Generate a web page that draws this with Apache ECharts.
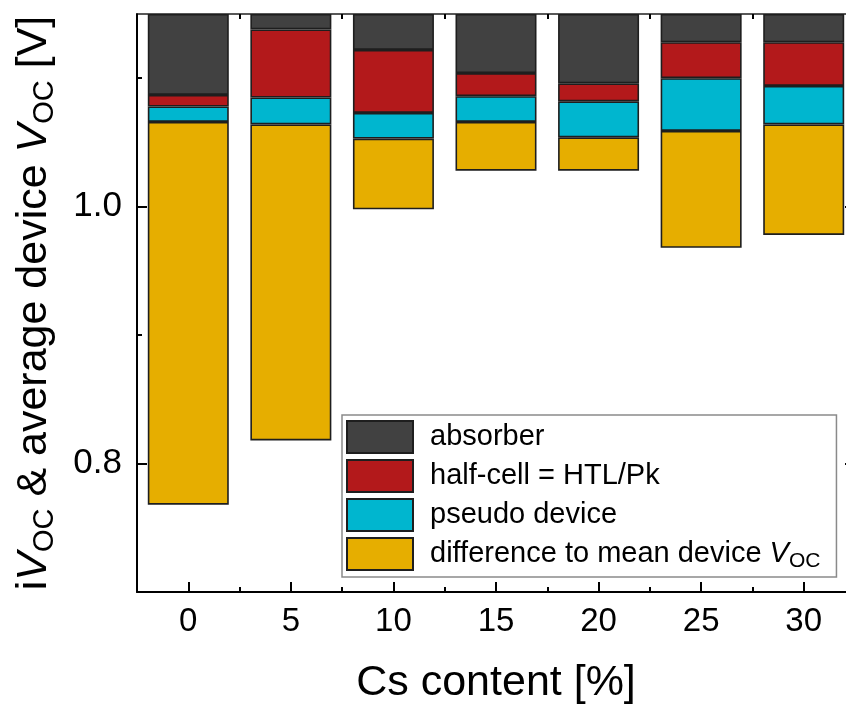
<!DOCTYPE html>
<html>
<head>
<meta charset="utf-8">
<script src="https://cdn.jsdelivr.net/npm/echarts@6/dist/echarts.min.js"></script>
<style>
  html, body { margin: 0; padding: 0; background: #fff; }
  #chart { width: 846px; height: 710px; }
</style>
</head>
<body>
<div id="chart"></div>
<script>
// Cs content of the perovskite absorber (%)
const csContent = ['0', '5', '10', '15', '20', '25', '30'];
// Voltage levels (V) bounding each coloured segment, from bottom to top
const meanDeviceVoc = [0.768, 0.818, 0.998, 1.028, 1.028, 0.968, 0.978];
const pseudoDeviceVoc = [1.066, 1.064, 1.053, 1.066, 1.054, 1.059, 1.064];
const halfCellVoc = [1.078, 1.085, 1.073, 1.086, 1.082, 1.100, 1.094];
const absorberVoc = [1.087, 1.138, 1.122, 1.104, 1.096, 1.128, 1.128];
const upperVoc = [1.15, 1.15, 1.15, 1.15, 1.15, 1.15, 1.15];
// Axis ticks
const yMajorTicks = [0.8, 1.0];
const yMinorTicks = [0.9, 1.1];

const FONT = '"Liberation Sans", Arial, Helvetica, sans-serif';
const seg = (hi, lo) => hi.map((v, i) => +(v - lo[i]).toFixed(4));

const names = {
  absorber: 'absorber',
  half: 'half-cell = HTL/Pk',
  pseudo: 'pseudo device',
  diff: 'difference to mean device VOC'
};

const segStyle = (color) => ({ color: color, borderColor: '#1e1e1e', borderWidth: 1.6 });

const common = { type: 'bar', stack: 'voc', barWidth: 81, xAxisIndex: 0, yAxisIndex: 0 };

const chart = echarts.init(document.getElementById('chart'), null, { renderer: 'canvas' });

const catAxis = (pos, major, showLabel, lineStyle) => ({
  type: 'category',
  data: csContent,
  position: pos,
  boundaryGap: true,
  axisLine: { show: !!lineStyle, lineStyle: lineStyle || {} },
  axisTick: {
    show: true, inside: true, alignWithLabel: major,
    length: major ? 10 : 5,
    lineStyle: { color: '#000', width: 2 }
  },
  axisLabel: showLabel ? {
    show: true, fontSize: 33, color: '#000', fontFamily: FONT, margin: 13
  } : { show: false },
  splitLine: { show: false }
});

const valAxis = (pos, ticks, len, showLabel, lineStyle) => ({
  type: 'value',
  position: pos,
  min: 0.7,
  max: 1.15,
  axisLine: { show: !!lineStyle, lineStyle: lineStyle || {} },
  axisTick: {
    show: true, inside: true, length: len, customValues: ticks,
    lineStyle: { color: '#000', width: 2 }
  },
  axisLabel: showLabel ? {
    show: true, customValues: ticks, fontSize: 35, color: '#000', fontFamily: FONT, margin: 15,
    formatter: (v) => v.toFixed(1)
  } : { show: false },
  splitLine: { show: false }
});

const xMain = catAxis('bottom', true, true, { color: '#000', width: 2 });
xMain.name = 'Cs content [%]';
xMain.nameLocation = 'middle';
xMain.nameGap = 70;
xMain.nameTextStyle = { fontSize: 43, color: '#000', fontFamily: FONT };

const yMain = valAxis('left', yMajorTicks, 10, true, { color: '#000', width: 2 });
yMain.name = 'i{it|V}{sub|OC} & average device {it|V}{sub|OC} [V]';
yMain.nameLocation = 'middle';
yMain.nameRotate = 90;
yMain.nameGap = 78;
yMain.nameTextStyle = {
  fontSize: 43, color: '#000', fontFamily: FONT, lineHeight: 50,
  rich: {
    it: { fontSize: 43, fontStyle: 'italic', fontFamily: FONT, color: '#000', lineHeight: 50 },
    sub: { fontSize: 29, fontFamily: FONT, color: '#000', lineHeight: 32, verticalAlign: 'bottom' }
  }
};

const option = {
  animation: false,
  backgroundColor: '#fff',
  grid: { left: 137, right: -9, top: 14, bottom: 118, containLabel: false, outerBoundsMode: 'none' },
  xAxis: [
    xMain,
    catAxis('bottom', false, false, null),
    catAxis('top', true, false, { color: '#222', width: 1.5 }),
    catAxis('top', false, false, null)
  ],
  yAxis: [
    yMain,
    valAxis('left', yMinorTicks, 5, false, null),
    valAxis('right', yMajorTicks, 10, false, { color: '#000', width: 2 }),
    valAxis('right', yMinorTicks, 5, false, null)
  ],
  legend: {
    orient: 'vertical',
    left: 342,
    top: 415,
    data: [names.absorber, names.half, names.pseudo, names.diff],
    icon: 'rect',
    itemWidth: 66,
    itemHeight: 32,
    itemGap: 5,
    padding: [5, 16, 5, 4],
    borderColor: '#8a8a8a',
    borderWidth: 1.5,
    borderRadius: 0,
    backgroundColor: '#fff',
    selectedMode: false,
    formatter: (name) => name === names.diff
      ? '{n|difference to mean device }{it|V}{sub|OC}'
      : '{n|' + name + '}',
    textStyle: {
      fontSize: 29, color: '#000', fontFamily: FONT, padding: [0, 0, 0, 12],
      rich: {
        n: { fontSize: 29, fontFamily: FONT, color: '#000', lineHeight: 36 },
        it: { fontSize: 29, fontStyle: 'italic', fontFamily: FONT, color: '#000', lineHeight: 36 },
        sub: { fontSize: 21, fontFamily: FONT, color: '#000', lineHeight: 22, verticalAlign: 'bottom' }
      }
    }
  },
  series: [
    Object.assign({}, common, {
      name: 'base',
      data: meanDeviceVoc,
      itemStyle: { color: 'rgba(0,0,0,0)', borderWidth: 0 },
      emphasis: { disabled: true },
      silent: true
    }),
    Object.assign({}, common, {
      name: names.diff,
      data: seg(pseudoDeviceVoc, meanDeviceVoc),
      itemStyle: segStyle('#E6AE00')
    }),
    Object.assign({}, common, {
      name: names.pseudo,
      data: seg(halfCellVoc, pseudoDeviceVoc),
      itemStyle: segStyle('#00B6CF')
    }),
    Object.assign({}, common, {
      name: names.half,
      data: seg(absorberVoc, halfCellVoc),
      itemStyle: segStyle('#B3191B')
    }),
    Object.assign({}, common, {
      name: names.absorber,
      data: seg(upperVoc, absorberVoc),
      itemStyle: segStyle('#414141')
    })
  ]
};

chart.setOption(option);
</script>
</body>
</html>
